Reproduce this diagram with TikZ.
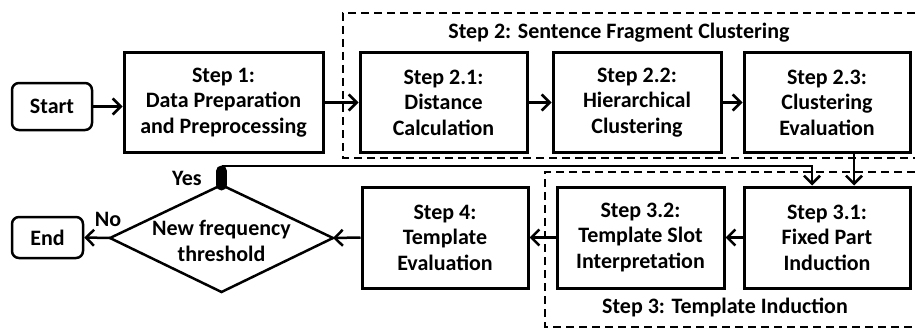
\documentclass[tikz,border=0pt]{standalone}
\usepackage{fontspec}
\setmainfont{Carlito}
\usetikzlibrary{arrows.meta}
\begin{document}
\begin{tikzpicture}[x=1pt,y=-1pt,
  txt/.style={font=\fontsize{22}{25.5}\selectfont\bfseries, align=center, inner sep=0pt},
  box/.style={txt, draw, line width=3pt, minimum height=99pt},
  term/.style={txt, draw, line width=2.5pt, rounded corners=7pt},
  arr/.style={line width=2.5pt, -{Straight Barb[length=8pt,width=16pt]}},
  grp/.style={line width=2pt, dash pattern=on 8pt off 5pt},
  lbl/.style={txt}]
\useasboundingbox (0,0) rectangle (915,329);
% group frames
\draw[grp] (915,13) -- (343,13) -- (343,158) -- (915,158);
\draw[grp] (915,172) -- (545,172) -- (545,327) -- (915,327);
\node[lbl] (g2) at (619,33) {Step 2: Sentence Fragment Clustering};
\node[lbl] (g3) at (725,307) {Step 3: Template Induction};
% top row
\node[term, minimum width=80pt, minimum height=47pt] (start) at (52,106.5) {Start};
\node[box, minimum width=199pt] (s1) at (223.5,102.5) {Step 1:\\Data Preparation\\and Preprocessing};
\node[box, minimum width=167pt] (s21) at (443.5,102.5) {Step 2.1:\\Distance\\Calculation};
\node[box, minimum width=168pt] (s22) at (637,102.5) {Step 2.2:\\Hierarchical\\Clustering};
\node[box, minimum width=166pt] (s23) at (827,102.5) {Step 2.3:\\Clustering\\Evaluation};
% bottom row
\node[box, minimum width=166pt, minimum height=101pt] (s31) at (827,237.5) {Step 3.1:\\Fixed Part\\Induction};
\node[box, minimum width=167pt, minimum height=101pt] (s32) at (640.5,237.5) {Step 3.2:\\Template Slot\\Interpretation};
\node[box, minimum width=166pt, minimum height=101pt] (s4) at (445,237.5) {Step 4:\\Template\\Evaluation};
\node[term, minimum width=71pt, minimum height=41pt] (end) at (47.5,237.5) {End};
% decision diamond
\coordinate (dt) at (221.5,185);
\coordinate (dr) at (333,238);
\coordinate (db) at (221.5,292);
\coordinate (dl) at (110,238);
\draw[line width=2.5pt, line join=miter] (dl) -- (dt) -- (dr) -- (db) -- cycle;
\node[txt] (dtext) at (221.5,241) {New frequency\\threshold};
\node[lbl] (yes) at (187,178) {Yes};
\node[lbl] (no) at (108,219) {No};
% connectors
\draw[arr] (start.east) -- (s1.west |- start.east);
\draw[arr] (s1.east) -- (s21.west);
\draw[arr] (s21.east) -- (s22.west);
\draw[arr] (s22.east) -- (s23.west);
\draw[arr] ([xshift=27pt]s23.south) -- ([xshift=27pt]s31.north);
\draw[arr] (s31.west) -- (s32.east);
\draw[arr] (s32.west) -- (s4.east);
\draw[arr] (s4.west) -- (dr);
\draw[arr] (dl) -- (end.east);
\coordinate (yb) at (221.5,166);
\draw[arr] (yb) -| ([xshift=-15pt]s31.north);
\draw[line width=11pt, line cap=round] (221.5,171) -- (dt);
\end{tikzpicture}
\end{document}
